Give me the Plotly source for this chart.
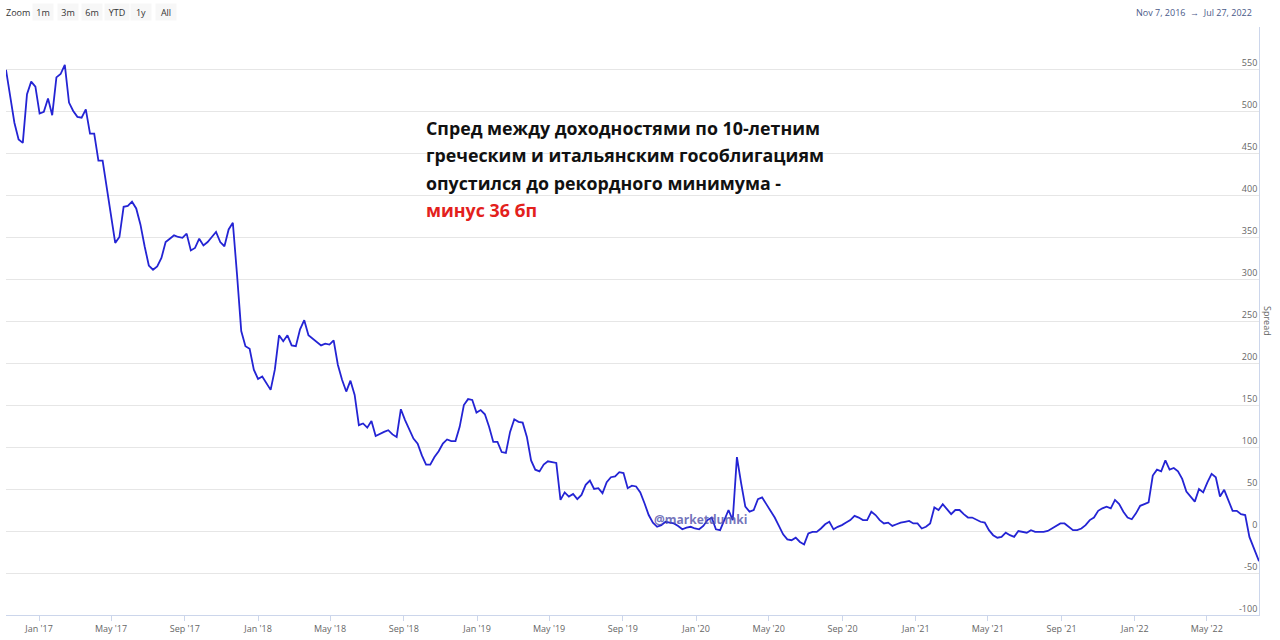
import pandas as pd
import plotly.graph_objects as go

# weekly spread GR10Y - IT10Y, bp
weekly_spread = [
    549, 515, 486, 466, 462, 520, 535, 529, 497, 499, 515, 495, 540, 544, 555, 510,
    500, 493, 492, 502, 473, 473, 441, 441, 408, 377, 343, 350, 386, 387, 392, 384,
    365, 339, 316, 311, 315, 325, 344, 348, 352, 350, 349, 354, 334, 337, 348, 340,
    344, 350, 356, 344, 339, 359, 367, 305, 238, 220, 217, 192, 181, 184, 176, 168,
    192, 233, 226, 233, 221, 220, 240, 251, 233, 229, 226, 221, 223, 222, 227, 198,
    180, 166, 179, 162, 126, 128, 123, 131, 113, 116, 118, 120, 115, 112, 145, 132,
    121, 110, 104, 90, 79, 79, 88, 95, 104, 109, 107, 107, 124, 150, 157, 156,
    141, 144, 139, 124, 106, 106, 94, 93, 118, 133, 130, 129, 112, 84, 73, 71,
    79, 83, 82, 81, 37, 46, 41, 44, 38, 43, 55, 60, 50, 51, 45, 58,
    64, 65, 70, 69, 51, 54, 53, 46, 33, 19, 10, 5, 7, 11, 10, 9,
    6, 2, 4, 5, 3, 2, 6, 13, 16, 2, 1, 13, 25, 13, 88, 57,
    29, 23, 25, 38, 40, 32, 24, 16, 6, -4, -10, -11, -8, -13, -16, -3,
    -1, -1, 3, 8, 11, 2, 5, 7, 10, 13, 18, 16, 13, 13, 23, 19,
    13, 9, 10, 6, 8, 10, 11, 12, 9, 9, 3, 5, 9, 28, 25, 32,
    26, 20, 25, 25, 20, 16, 16, 13, 11, 10, 1, -5, -8, -7, -2, -5,
    -7, 0, -1, -2, 1, -1, -1, -1, 0, 3, 7, 9, 9, 5, 1, 1,
    3, 7, 13, 16, 24, 27, 29, 27, 37, 32, 23, 16, 14, 21, 30, 32,
    34, 66, 73, 71, 84, 73, 75, 71, 62, 47, 41, 35, 50, 46, 58, 68,
    64, 41, 49, 37, 24, 24, 20, 19, -7,
]
first_week = '2016-11-07'
last_date = '2022-07-27'
last_value = -36

x_ticks = ['2017-01-01', '2017-05-01', '2017-09-01', '2018-01-01', '2018-05-01', '2018-09-01',
           '2019-01-01', '2019-05-01', '2019-09-01', '2020-01-01', '2020-05-01', '2020-09-01',
           '2021-01-01', '2021-05-01', '2021-09-01', '2022-01-01', '2022-05-01']
y_ticks = [-100, -50, 0, 50, 100, 150, 200, 250, 300, 350, 400, 450, 500, 550, 600]
y_labels = [str(v) for v in y_ticks[:-1]] + ['']
zoom_buttons = ['1m', '3m', '6m', 'YTD', '1y', 'All']

title_lines = ['Спред между доходностями по 10-летним',
               'греческим и итальянским гособлигациям',
               'опустился до рекордного минимума -']
title_red = 'минус 36 бп'

dates = list(pd.date_range(first_week, periods=len(weekly_spread), freq='7D')) + [pd.Timestamp(last_date)]
vals = weekly_spread + [last_value]

LINE = '#2424d4'; AX = '#ccd6eb'; GRID = '#e6e6e6'; TXT = '#666666'
L, T, R, B = 6, 27, 21, 25
PW, PH = 1280 - L - R, 640 - T - B
px = lambda x: (x - L) / PW          # pixel -> paper
py = lambda y: (640 - B - y) / PH

fig = go.Figure()
fig.add_trace(go.Scatter(x=dates, y=vals, mode='lines', name='Spread',
                         line=dict(color=LINE, width=1.8)))

fig.update_layout(
    width=1280, height=640, margin=dict(l=L, r=R, t=T, b=B),
    paper_bgcolor='white', plot_bgcolor='white', showlegend=False,
    font=dict(family='Open Sans', size=10, color=TXT),
    xaxis=dict(type='date', range=[first_week, last_date], tickvals=x_ticks, tickformat="%b '%y",
               showgrid=False, showline=True, linecolor=AX, linewidth=1,
               ticks='outside', ticklen=5, tickcolor=AX, tickfont=dict(size=9, color=TXT)),
    yaxis=dict(side='right', range=[-100, 600], tickvals=y_ticks, ticktext=y_labels,
               ticklabelposition='inside top', tickfont=dict(size=9, color=TXT),
               showgrid=True, gridcolor=GRID, gridwidth=1, zeroline=False,
               showline=True, linecolor=AX, linewidth=1, ticks=''),
)

# range selector look-alike (Highcharts stock style)
fig.add_annotation(text='Zoom', xref='paper', yref='paper', x=px(18), y=py(12),
                   xanchor='center', yanchor='middle', showarrow=False,
                   font=dict(size=9, color='#333333'))
for i, lab in enumerate(zoom_buttons):
    fig.add_annotation(text=lab, xref='paper', yref='paper', x=px(43 + 24.6 * i), y=py(12),
                       xanchor='center', yanchor='middle', showarrow=False,
                       width=22 if lab == 'YTD' else 18, height=14, bgcolor='#f7f7f7',
                       font=dict(size=9, color='#333333'))
fig.add_annotation(text='Nov 7, 2016  →  Jul 27, 2022', xref='paper', yref='paper', x=px(1254), y=py(12),
                   xanchor='right', yanchor='middle', showarrow=False,
                   font=dict(size=9, color='#4a5a88'))
fig.add_annotation(text='Spread', xref='paper', yref='paper', x=px(1268), y=0.5, textangle=90,
                   xanchor='center', yanchor='middle', showarrow=False,
                   font=dict(size=9, color=TXT))

for i, line in enumerate(title_lines + [title_red]):
    fig.add_annotation(text='<b>' + line + '</b>', xref='paper', yref='paper',
                       x=px(424), y=py(128 + 27.3 * i),
                       xanchor='left', yanchor='middle', showarrow=False,
                       font=dict(family='Open Sans', size=17.8,
                                 color='#e3211c' if line == title_red else '#111111'))

fig.add_annotation(text='<b>@marketdumki</b>', xref='paper', yref='paper',
                   x=px(700), y=py(519), xanchor='center', yanchor='middle',
                   showarrow=False, font=dict(family='Open Sans', size=12, color='rgba(80,80,170,0.8)'))

fig.write_html('out.html', config={'displayModeBar': False},
               post_script="document.body.style.margin='0';")
